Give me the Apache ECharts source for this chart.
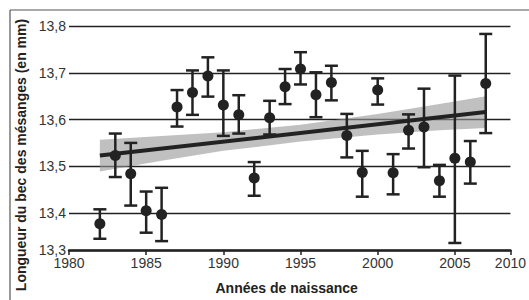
<!DOCTYPE html>
<html lang="fr">
<head>
    <meta charset="UTF-8">
    <title>Longueur du bec des mésanges</title>
    <style>
        html, body { margin: 0; padding: 0; background: #fff; }
        #chart { width: 529px; height: 300px; }
    </style>
</head>
<body>
<div id="chart"></div>
<script type="text/javascript" src="https://cdn.jsdelivr.net/npm/echarts@6/dist/echarts.min.js"></script>
<script type="text/javascript">
    'use strict';
    // années de naissance et longueur moyenne du bec (mm), avec barres d'erreur
    var years = [1982, 1983, 1984, 1985, 1986, 1987, 1988, 1989, 1990, 1991, 1992, 1993, 1994,
        1995, 1996, 1997, 1998, 1999, 2000, 2001, 2002, 2003, 2004, 2005, 2006, 2007];
    var means = [13.377, 13.523, 13.484, 13.405, 13.397, 13.627, 13.658, 13.693, 13.631, 13.610, 13.475, 13.604, 13.670,
        13.708, 13.653, 13.679, 13.566, 13.487, 13.663, 13.486, 13.577, 13.584, 13.469, 13.517, 13.509, 13.677];
    var errHigh = [13.408, 13.570, 13.550, 13.446, 13.454, 13.663, 13.705, 13.733, 13.705, 13.652, 13.509, 13.640, 13.708,
        13.744, 13.701, 13.715, 13.612, 13.533, 13.688, 13.526, 13.611, 13.666, 13.503, 13.694, 13.554, 13.783];
    var errLow = [13.345, 13.477, 13.416, 13.358, 13.340, 13.585, 13.610, 13.649, 13.565, 13.570, 13.437, 13.568, 13.633,
        13.675, 13.605, 13.641, 13.519, 13.435, 13.632, 13.440, 13.538, 13.498, 13.435, 13.336, 13.463, 13.571];

    // droite de régression et son intervalle de confiance
    var trendYears = [1982, 2007];
    var trendValues = [13.523, 13.616];
    var bandYears = [1982, 1986, 1990, 1995, 2000, 2004, 2007];
    var bandLow = [13.489, 13.512, 13.533, 13.553, 13.568, 13.577, 13.582];
    var bandHigh = [13.557, 13.565, 13.573, 13.589, 13.612, 13.633, 13.650];

    // graduations imprimées ; sur la figure d'origine la dernière graduation de chaque
    // axe est tassée contre le bout de l'axe (2010 à ~2008,6 et 13,3 à ~13,32)
    var xTickLabels = ['1980', '1985', '1990', '1995', '2000', '2005', '2010'];
    var yTickLabels = ['13,3', '13,4', '13,5', '13,6', '13,7', '13,8'];
    var xMin = 1980, xMax = 2008.6;
    var yMin = 13.321, yMax = 13.8;

    var ink = '#222';
    var font = 'Liberation Sans, Arial, sans-serif';

    var chart = echarts.init(document.getElementById('chart'), null, {renderer: 'svg'});

    var pointData = years.map(function (y, i) { return [y, means[i]]; });
    var errData = years.map(function (y, i) { return [y, errLow[i], errHigh[i]]; });
    var trendData = trendYears.map(function (y, i) { return [y, trendValues[i]]; });

    var option = {
        animation: false,
        backgroundColor: '#fff',
        grid: {left: 69, right: 13, top: 26, bottom: 47},
        xAxis: {
            type: 'value',
            min: xMin,
            max: xMax,
            name: 'Années de naissance',
            nameLocation: 'middle',
            nameGap: 31,
            nameTextStyle: {color: ink, fontSize: 14, fontWeight: 'bold', fontFamily: font, padding: [0, 6, 0, 0]},
            axisLine: {lineStyle: {color: ink, width: 2.5}},
            axisTick: {show: true, length: 5, lineStyle: {color: ink, width: 1.5}},
            axisLabel: {
                color: '#333', fontSize: 14, fontFamily: font, margin: 6,
                formatter: function (v) {
                    if (v > 2005.5) return xTickLabels[xTickLabels.length - 1];
                    return xTickLabels[Math.round((v - 1980) / 5)];
                }
            },
            splitLine: {show: false}
        },
        yAxis: {
            type: 'value',
            min: yMin,
            max: yMax,
            axisLine: {show: false},
            axisTick: {show: false},
            axisLabel: {
                color: '#333', fontSize: 14, fontFamily: font, margin: 3,
                formatter: function (v) {
                    if (v < 13.35) return yTickLabels[0];
                    return yTickLabels[Math.round((v - 13.3) * 10)];
                }
            },
            splitLine: {lineStyle: {color: '#222', width: 1.3}}
        },
        graphic: [
            {type: 'line', shape: {x1: 10, y1: 10, x2: 529, y2: 10}, style: {stroke: '#555', lineWidth: 1.2}},
            {type: 'line', shape: {x1: 10, y1: 10, x2: 10, y2: 300}, style: {stroke: '#555', lineWidth: 1.2}},
            {
                type: 'text', x: 21, y: 155, rotation: Math.PI / 2,
                style: {
                    text: 'Longueur du bec des mésanges (en mm)',
                    fill: ink, font: 'bold 14px ' + font,
                    textAlign: 'center', textVerticalAlign: 'middle'
                }
            }
        ],
        series: [
            {
                name: 'intervalle',
                type: 'custom',
                data: [0],
                z: 1,
                renderItem: function (params, api) {
                    var pts = [];
                    for (var i = 0; i < bandYears.length; i++) {
                        pts.push(api.coord([bandYears[i], bandHigh[i]]));
                    }
                    for (var j = bandYears.length - 1; j >= 0; j--) {
                        pts.push(api.coord([bandYears[j], bandLow[j]]));
                    }
                    return {
                        type: 'polygon',
                        shape: {points: pts},
                        style: {fill: 'rgba(150,150,150,0.6)'}
                    };
                }
            },
            {
                name: 'régression',
                type: 'line',
                data: trendData,
                z: 2,
                showSymbol: false,
                lineStyle: {color: ink, width: 4}
            },
            {
                name: 'erreur',
                type: 'custom',
                data: errData,
                z: 3,
                renderItem: function (params, api) {
                    var x = api.value(0);
                    var top = api.coord([x, api.value(2)]);
                    var bot = api.coord([x, api.value(1)]);
                    var w = 6.5;
                    var st = {stroke: ink, lineWidth: 2.5};
                    return {
                        type: 'group',
                        children: [
                            {type: 'line', shape: {x1: top[0], y1: top[1], x2: bot[0], y2: bot[1]}, style: st},
                            {type: 'line', shape: {x1: top[0] - w, y1: top[1], x2: top[0] + w, y2: top[1]}, style: st},
                            {type: 'line', shape: {x1: bot[0] - w, y1: bot[1], x2: bot[0] + w, y2: bot[1]}, style: st}
                        ]
                    };
                }
            },
            {
                name: 'moyenne',
                type: 'scatter',
                data: pointData,
                z: 4,
                symbolSize: 11,
                itemStyle: {color: ink, opacity: 1}
            }
        ]
    };

    chart.setOption(option);
</script>
</body>
</html>
